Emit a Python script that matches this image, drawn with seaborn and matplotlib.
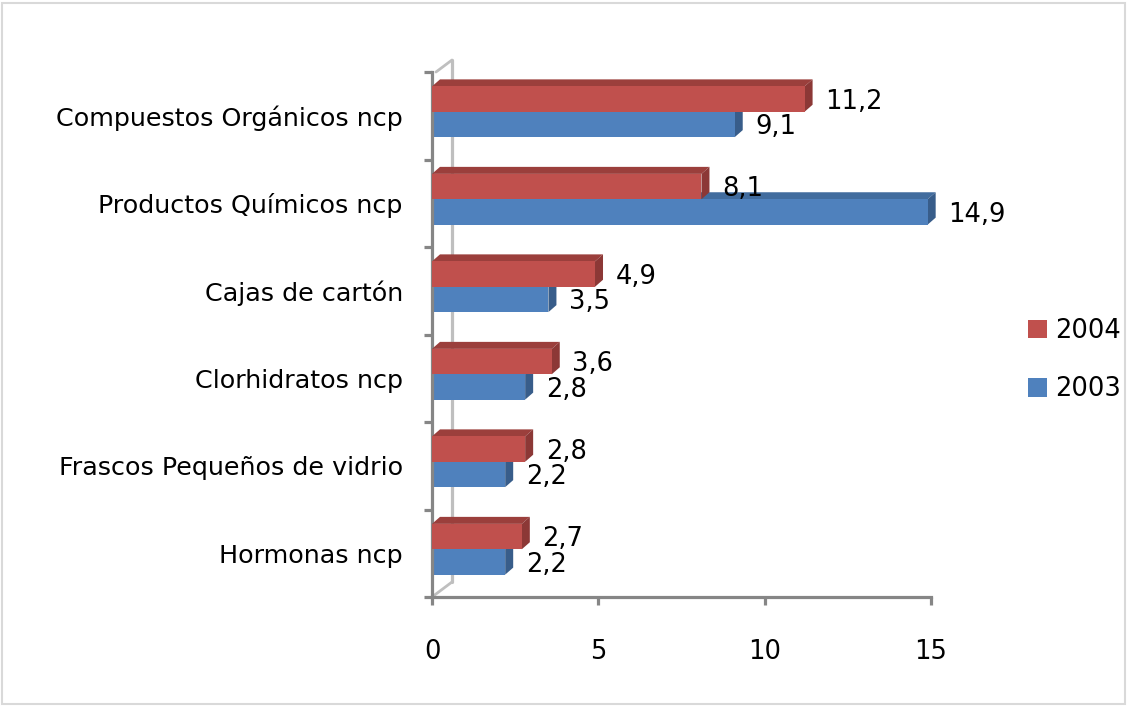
import matplotlib
matplotlib.use("Agg")
import matplotlib.pyplot as plt
import seaborn as sns
import pandas as pd
from matplotlib.patches import Polygon, Rectangle

categories = ["Compuestos Orgánicos ncp", "Productos Químicos ncp", "Cajas de cartón",
              "Clorhidratos ncp", "Frascos Pequeños de vidrio", "Hormonas ncp"]
values_2004 = [11.2, 8.1, 4.9, 3.6, 2.8, 2.7]
values_2003 = [9.1, 14.9, 3.5, 2.8, 2.2, 2.2]
series = ["2004", "2003"]
value_labels_2004 = ["11,2", "8,1", "4,9", "3,6", "2,8", "2,7"]
value_labels_2003 = ["9,1", "14,9", "3,5", "2,8", "2,2", "2,2"]
xticks = [0, 5, 10, 15]

colors = {"2004": "#C0504D", "2003": "#4F81BD"}
side_colors = {"2004": "#8C3836", "2003": "#385D8A"}
top_colors = {"2004": "#9B3F3C", "2003": "#416C9E"}

df = pd.DataFrame({
    "cat": categories * 2,
    "val": values_2004 + values_2003,
    "year": ["2004"] * len(categories) + ["2003"] * len(categories),
})

sns.set_style("white")
plt.rcParams["font.family"] = ["DejaVu Sans"]
plt.rcParams["text.color"] = "black"
plt.rcParams["xtick.color"] = "black"
plt.rcParams["ytick.color"] = "black"

fig = plt.figure(figsize=(11.28, 7.07), dpi=100)
ax = fig.add_axes([432 / 1128, 1 - 597 / 707, (931 - 432) / 1128, (597 - 72) / 707])

sns.barplot(data=df, y="cat", x="val", hue="year", hue_order=series, order=categories,
            palette=colors, orient="h", width=0.58, gap=0, ax=ax, legend=False,
            saturation=1, edgecolor="none", linewidth=0)

ax.set_xlim(0, 15)
ax.set_ylim(5.5, -0.5)

# 3D depth faces derived from the bar patches
px_per_x = (931 - 432) / 15.0
px_per_y = (597 - 72) / 6.0
dx = 8 / px_per_x
dy = 7 / px_per_y
lift = 4 / px_per_y
bars_by_series = {s: c for s, c in zip(series, ax.containers)}
for s, cont in bars_by_series.items():
    for p in cont.patches:
        p.set_y(p.get_y() - lift)
        x0, y0 = p.get_x(), p.get_y()
        w, h = p.get_width(), p.get_height()
        x1 = x0 + w
        zo = 3 if s == "2004" else 2
        p.set_zorder(zo)
        top = Polygon([(x0, y0), (x0 + dx, y0 - dy), (x1 + dx, y0 - dy), (x1, y0)],
                      closed=True, facecolor=top_colors[s], edgecolor="none", zorder=zo - 0.1)
        side = Polygon([(x1, y0), (x1 + dx, y0 - dy), (x1 + dx, y0 + h - dy), (x1, y0 + h)],
                       closed=True, facecolor=side_colors[s], edgecolor="none", zorder=zo - 0.1)
        for poly in (top, side):
            ax.add_patch(poly)
            poly.set_clip_on(False)

# value labels
for s, labels in zip(series, [value_labels_2004, value_labels_2003]):
    for p, lab in zip(bars_by_series[s].patches, labels):
        x1 = p.get_x() + p.get_width()
        yc = p.get_y() + p.get_height() / 2
        ax.text(x1 + dx + 0.38, yc + 0.03, lab, ha="left", va="center", fontsize=18.5,
                color="black", zorder=6, clip_on=False)

# axes styling
for sp in ["top", "right"]:
    ax.spines[sp].set_visible(False)
for sp in ["left", "bottom"]:
    ax.spines[sp].set_color("#868686")
    ax.spines[sp].set_linewidth(2.3)

ax.set_xticks(xticks)
ax.set_xticklabels([str(t) for t in xticks], fontsize=18.5)
ax.tick_params(axis="x", bottom=True, length=6, width=2.3, color="#868686", pad=24,
               direction="out", labelcolor="black")

bounds = [i - 0.5 for i in range(len(categories) + 1)]
ax.set_yticks(bounds)
ax.set_yticklabels([""] * len(bounds))
ax.tick_params(axis="y", which="major", left=True, length=6, width=2.3, color="#868686",
               direction="out")
ax.set_yticks(range(len(categories)), minor=True)
ax.set_yticklabels(categories, minor=True, fontsize=18.3)
ax.tick_params(axis="y", which="minor", left=True, length=0, pad=21, labelcolor="black")
ax.set_xlabel("")
ax.set_ylabel("")

# back wall lines (3D frame)
wx = 20 / 499
wy = 15 / 525
wt = 12 / 525
ax.plot([wx, wx], [wy, 1 + wt], transform=ax.transAxes, color="#BFBFBF", lw=2.3,
        clip_on=False, zorder=0.5)
ax.plot([0, wx], [0, wy], transform=ax.transAxes, color="#BFBFBF", lw=2, clip_on=False, zorder=0.5)
ax.plot([0.008, wx], [1, 1 + wt], transform=ax.transAxes, color="#BFBFBF", lw=2, clip_on=False, zorder=0.5)

# legend
handles = [Rectangle((0, 0), 1, 1, facecolor=colors[s], edgecolor="none") for s in series]
fig.legend(handles, series, loc="center left", bbox_to_anchor=(1010 / 1128, 1 - 360 / 707),
           frameon=False, fontsize=18.5, handlelength=0.75, handleheight=0.75,
           labelspacing=1.25, handletextpad=0.3, borderpad=0.2)

# outer chart border
fig.patches.append(Rectangle((0.002, 0.004), 0.995, 0.992, transform=fig.transFigure,
                             fill=False, edgecolor="#D9D9D9", lw=1.5))

fig.savefig("out.png", dpi=100)
